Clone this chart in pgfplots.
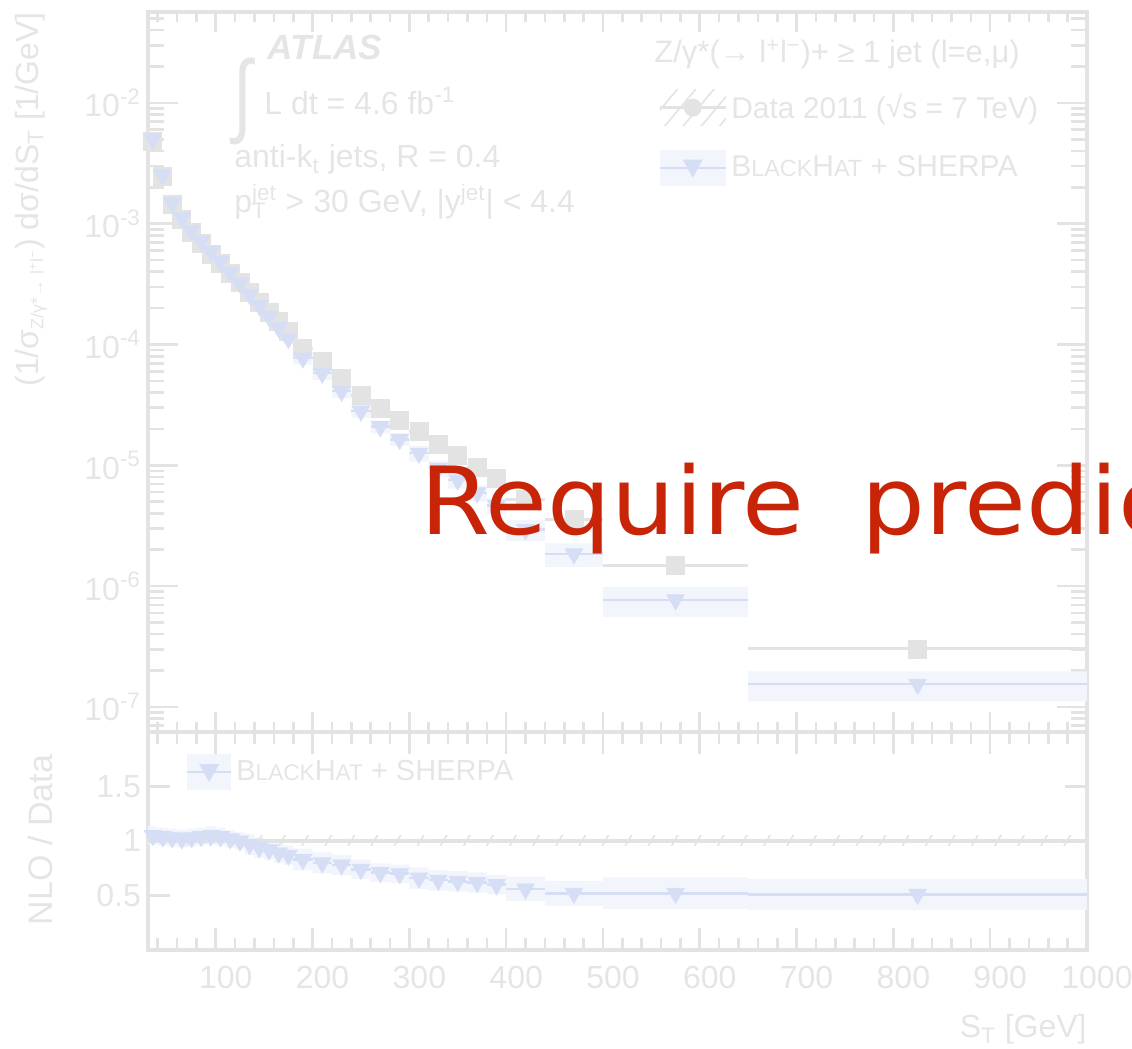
\documentclass[border=0pt]{standalone}
\usepackage{pgfplots}
\pgfplotsset{compat=1.18}
\usepackage{pgfplotstable}
\usepgfplotslibrary{fillbetween}
\usetikzlibrary{patterns.meta,calc}
\usepackage{fontspec}
\setmainfont{Liberation Sans}
\newfontfamily\handfont{DejaVu Sans}

\definecolor{txt}{gray}{0.90}
\definecolor{frm}{gray}{0.89}
\definecolor{dat}{gray}{0.89}
\definecolor{bhc}{rgb}{0.84,0.87,0.965}
\definecolor{bhband}{rgb}{0.950,0.960,0.990}
\definecolor{redink}{rgb}{0.78,0.14,0.03}

\newcommand\bh{B\scalebox{0.78}{LACK}H\scalebox{0.78}{AT}}

% S_T bin centre, low edge, half width, data, BlackHat+Sherpa, ratio NLO/Data, rel. uncertainty
\pgfplotstableread{
x lo hw d b r u
35 30 5 4.79e-3 5.03e-3 1.05 0.08
45 40 5 2.45e-3 2.55e-3 1.04 0.08
55 50 5 1.445e-3 1.488e-3 1.03 0.08
65 60 5 1.096e-3 1.118e-3 1.02 0.08
75 70 5 8.51e-4 8.77e-4 1.03 0.08
85 80 5 6.92e-4 7.20e-4 1.04 0.08
95 90 5 5.62e-4 5.90e-4 1.05 0.08
105 100 5 4.68e-4 4.87e-4 1.04 0.08
115 110 5 3.89e-4 3.97e-4 1.02 0.08
125 120 5 3.24e-4 3.24e-4 1.00 0.08
135 130 5 2.69e-4 2.61e-4 0.97 0.10
145 140 5 2.24e-4 2.11e-4 0.94 0.10
155 150 5 1.86e-4 1.71e-4 0.92 0.10
165 160 5 1.55e-4 1.38e-4 0.89 0.10
175 170 5 1.29e-4 1.12e-4 0.87 0.10
190 180 10 9.33e-5 7.74e-5 0.83 0.12
210 200 10 7.24e-5 5.79e-5 0.80 0.12
230 220 10 5.25e-5 4.10e-5 0.78 0.12
250 240 10 3.80e-5 2.81e-5 0.74 0.12
270 260 10 2.95e-5 2.09e-5 0.71 0.12
290 280 10 2.34e-5 1.64e-5 0.70 0.12
310 300 10 1.91e-5 1.26e-5 0.66 0.15
330 320 10 1.48e-5 9.47e-6 0.64 0.15
350 340 10 1.20e-5 7.56e-6 0.63 0.15
370 360 10 9.55e-6 5.92e-6 0.62 0.15
390 380 10 7.76e-6 4.66e-6 0.60 0.15
420 400 20 5.25e-6 2.94e-6 0.56 0.20
470 440 30 3.55e-6 1.85e-6 0.52 0.22
575 500 75 1.48e-6 7.70e-7 0.52 0.28
825 650 175 3.02e-7 1.54e-7 0.51 0.28
}\tab

% bin edges for the uncertainty bands (last row closes the last bin)
\pgfplotstableread{
e b r u
30 5.03e-3 1.05 0.08
40 2.55e-3 1.04 0.08
50 1.488e-3 1.03 0.08
60 1.118e-3 1.02 0.08
70 8.77e-4 1.03 0.08
80 7.20e-4 1.04 0.08
90 5.90e-4 1.05 0.08
100 4.87e-4 1.04 0.08
110 3.97e-4 1.02 0.08
120 3.24e-4 1.00 0.08
130 2.61e-4 0.97 0.10
140 2.11e-4 0.94 0.10
150 1.71e-4 0.92 0.10
160 1.38e-4 0.89 0.10
170 1.12e-4 0.87 0.10
180 7.74e-5 0.83 0.12
200 5.79e-5 0.80 0.12
220 4.10e-5 0.78 0.12
240 2.81e-5 0.74 0.12
260 2.09e-5 0.71 0.12
280 1.64e-5 0.70 0.12
300 1.26e-5 0.66 0.15
320 9.47e-6 0.64 0.15
340 7.56e-6 0.63 0.15
360 5.92e-6 0.62 0.15
380 4.66e-6 0.60 0.15
400 2.94e-6 0.56 0.20
440 1.85e-6 0.52 0.22
500 7.70e-7 0.52 0.28
650 1.54e-7 0.51 0.28
1000 1.54e-7 0.51 0.28
}\band

\pgfplotsset{
  rootstyle/.style={
    anchor=south west, scale only axis, width=469.5pt,
    xmin=30, xmax=1000,
    xtick={100,200,...,1000}, minor xtick={40,60,...,980},
    axis line style={frm, line width=1.6pt},
    every tick/.style={frm, line width=1.3pt},
    tick align=inside,
    ticklabel style={text=txt, font=\fontsize{16}{16}\selectfont},
  },
  datleg/.style={legend image code/.code={
    \fill[draw=none, pattern={Lines[angle=50,distance=7pt,line width=0.8pt]}, pattern color=frm] (0pt,-9pt) rectangle (33pt,9pt);
    \draw[dat, line width=1.5pt] (0pt,0pt) -- (33pt,0pt);
    \fill[dat, draw=none] (16.5pt,0pt) circle (4.5pt);}},
  bhleg/.style={legend image code/.code={
    \fill[bhband, draw=none] (0pt,-9pt) rectangle (#1,9pt);
    \draw[bhc, line width=1.2pt] (0pt,0pt) -- (#1,0pt);
    \fill[bhc, draw=none] ($(0.5*#1,-5pt)$) -- ++(-5pt,9pt) -- ++(10pt,0pt) -- cycle;}},
}

\begin{document}
\begin{tikzpicture}

% ---------------- main panel ----------------
\begin{axis}[rootstyle,
  at={(74pt,158.5pt)}, height=360pt,
  ymode=log, ymin=6.2e-8, ymax=5.66e-2,
  xticklabels={},
  ytick={1e-7,1e-6,1e-5,1e-4,1e-3,1e-2},
  yticklabels={10\textsuperscript{-7},10\textsuperscript{-6},10\textsuperscript{-5},10\textsuperscript{-4},10\textsuperscript{-3},10\textsuperscript{-2}},
  minor ytick={7e-8,8e-8,9e-8,2e-7,3e-7,4e-7,5e-7,6e-7,7e-7,8e-7,9e-7,2e-6,3e-6,4e-6,5e-6,6e-6,7e-6,8e-6,9e-6,2e-5,3e-5,4e-5,5e-5,6e-5,7e-5,8e-5,9e-5,2e-4,3e-4,4e-4,5e-4,6e-4,7e-4,8e-4,9e-4,2e-3,3e-3,4e-3,5e-3,6e-3,7e-3,8e-3,9e-3,2e-2,3e-2,4e-2,5e-2},
  major tick length=15pt, minor tick length=8pt,
  xtick style={/pgfplots/major tick length=10pt,/pgfplots/minor tick length=5pt},
  legend style={draw=none, fill=none, at={(0.543,0.893)}, anchor=north west,
    font=\fontsize{15}{15}\selectfont, text=txt, row sep=12pt,
    inner sep=0pt, cells={anchor=west}},
  legend cell align=left,
]
\addplot[name path=bu, draw=none, const plot, forget plot] table[x=e, y expr=\thisrow{b}*(1+\thisrow{u})]{\band};
\addplot[name path=bl, draw=none, const plot, forget plot] table[x=e, y expr=\thisrow{b}*(1-\thisrow{u})]{\band};
\addplot[bhband, forget plot] fill between[of=bu and bl];

\addplot[forget plot, only marks, mark=square*, mark size=4.5pt, dat, mark options={fill=dat, draw=dat},
  error bars/.cd, x dir=both, x explicit, error bar style={dat, line width=1.5pt}, error mark=none]
  table[x=x, y=d, x error=hw]{\tab};
\addplot[forget plot, only marks, mark=triangle*, mark size=5pt, bhc, mark options={rotate=180, fill=bhc, draw=bhc},
  error bars/.cd, x dir=both, x explicit, error bar style={bhc, line width=1.2pt}, error mark=none]
  table[x=x, y=b, x error=hw]{\tab};

\addlegendimage{datleg}
\addlegendentry{Data 2011 (\raisebox{0.1ex}{√}s = 7 TeV)}
\addlegendimage{bhleg=33pt}
\addlegendentry{\bh\ + SHERPA}
\end{axis}

% ---------------- ratio panel ----------------
\begin{axis}[rootstyle,
  at={(74pt,49.5pt)}, height=109pt,
  ymin=0, ymax=2,
  ytick={0.5,1,1.5}, yticklabels={0.5,1,1.5},
  xticklabels={100,200,300,400,500,600,700,800,900,1000},
  xticklabel style={xshift=5pt, yshift=-4.5pt},
  major tick length=11pt, minor tick length=6pt,
  legend style={draw=none, fill=none, at={(0.04,0.90)}, anchor=north west,
    font=\fontsize{14.5}{14.5}\selectfont, text=txt, inner sep=0pt},
]
\addplot[name path=ru, draw=none, const plot, forget plot] table[x=e, y expr=\thisrow{r}*(1+\thisrow{u})]{\band};
\addplot[name path=rl, draw=none, const plot, forget plot] table[x=e, y expr=\thisrow{r}*(1-\thisrow{u})]{\band};
\addplot[bhband, forget plot] fill between[of=ru and rl];

\addplot[forget plot, draw=none, pattern={Lines[angle=60,distance=10pt,line width=0.8pt]}, pattern color=frm]
  coordinates {(30,0.96) (1000,0.96) (1000,1.05) (30,1.05)} -- cycle;
\addplot[forget plot, frm, line width=1.6pt] coordinates {(30,1) (1000,1)};

\addplot[forget plot, only marks, mark=triangle*, mark size=5pt, bhc, mark options={rotate=180, fill=bhc, draw=bhc},
  error bars/.cd, x dir=both, x explicit, error bar style={bhc, line width=1.2pt}, error mark=none]
  table[x=x, y=r, x error=hw]{\tab};

\addlegendimage{bhleg=22pt}
\addlegendentry{\bh\ + SHERPA}
\end{axis}

% ---------------- text ----------------
\begin{scope}[every node/.style={text=txt, inner sep=0pt}]
\node[anchor=base, font=\fontsize{17.5}{17.5}\selectfont\bfseries\itshape] at (162.5pt,494.5pt) {ATLAS};
\node[anchor=center, font=\fontsize{34}{34}\selectfont, yscale=1.35] at (121.5pt,474pt) {∫};
\node[anchor=base west, font=\fontsize{16}{16}\selectfont] at (132pt,467pt) {L dt = 4.6 fb\textsuperscript{-1}};
\node[anchor=base west, font=\fontsize{16}{16}\selectfont] at (117pt,440.5pt) {anti-k\textsubscript{t} jets, R = 0.4};
\node[anchor=base west, font=\fontsize{16}{16}\selectfont] at (117pt,418pt)
  {p\rlap{\textsubscript{T}}\textsuperscript{jet} > 30 GeV, |y\textsuperscript{jet}| < 4.4};
\node[anchor=base west, font=\fontsize{15.5}{15.5}\selectfont] at (327pt,493pt)
  {Z/γ*(→ l\textsuperscript{+}l\textsuperscript{−})+ ≥ 1 jet (l=e,μ)};
\node[anchor=east, rotate=90, font=\fontsize{16}{16}\selectfont] at (15.5pt,518.5pt)
  {(1/σ\textsubscript{\scalebox{0.8}{Z/γ*→ l\textsuperscript{+}l\textsuperscript{−}}}) dσ/dS\textsubscript{T} [1/GeV]};
\node[anchor=center, rotate=90, font=\fontsize{17}{17}\selectfont] at (20pt,104.5pt) {NLO / Data};
\node[anchor=base east, font=\fontsize{16}{16}\selectfont] at (543.5pt,5.5pt) {S\textsubscript{T} [GeV]};
\end{scope}

\node[anchor=base west, text=redink, inner sep=0pt, xscale=1.07,
  font=\handfont\fontsize{47}{47}\selectfont] at (210pt,257pt) {Require\hspace{0.25em} predictions};

\pgfresetboundingbox
\useasboundingbox (0pt,0pt) rectangle (566pt,524.5pt);
\end{tikzpicture}
\end{document}
